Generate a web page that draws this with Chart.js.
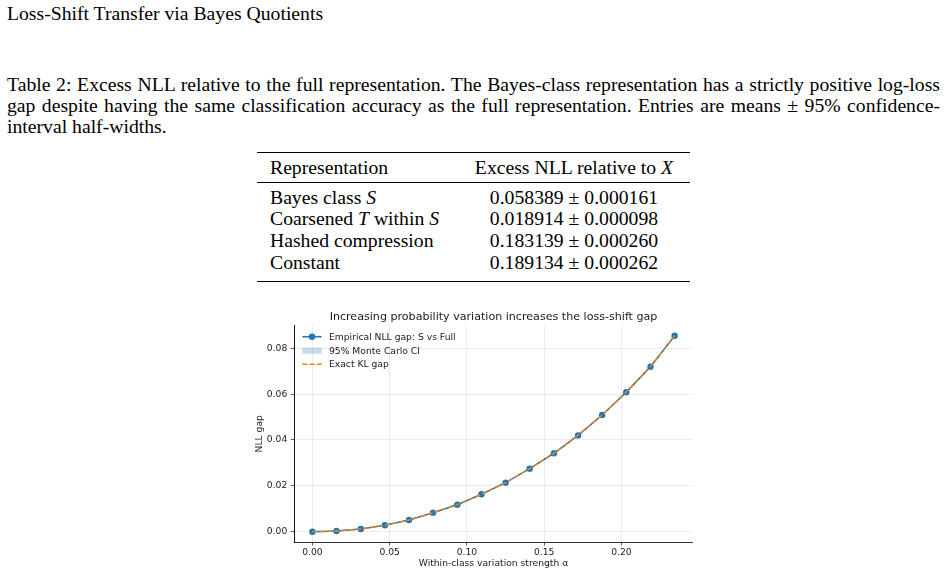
<!DOCTYPE html>
<html>
<head>
<meta charset="utf-8">
<script src="https://cdn.jsdelivr.net/npm/chart.js@4.4.1/dist/chart.umd.min.js"></script>
<style>
  html, body { margin: 0; padding: 0; background: #fff; }
  body { width: 948px; height: 576px; position: relative; overflow: hidden;
         font-family: "Liberation Serif", "Times New Roman", serif; color: #000; }
  .t { position: absolute; font-size: 19.7px; line-height: 20px; white-space: nowrap; }
  .just { white-space: normal; text-align: justify; text-align-last: justify; width: 933px; }
  .rule { position: absolute; left: 257px; width: 433px; background: #000; }
  .c2 { left: 459px; width: 230px; text-align: center; }
  i { font-style: italic; }
  #wrap { position: absolute; left: 250px; top: 300px; width: 450px; height: 276px; }
</style>
</head>
<body>
<script>
// ---- chart data ----
const alpha   = [0, 0.0156, 0.0313, 0.0469, 0.0625, 0.0781, 0.0938, 0.1094, 0.125, 0.1406, 0.1563, 0.1719, 0.1875, 0.2031, 0.2188, 0.2344];
const nllGap  = [0.0000, 0.0003, 0.0012, 0.0028, 0.0051, 0.0083, 0.0118, 0.0163, 0.0214, 0.0275, 0.0342, 0.0420, 0.0509, 0.0608, 0.0720, 0.0855];
const ciLower = [-0.0001, 0.0002, 0.0011, 0.0026, 0.0049, 0.0081, 0.0116, 0.0161, 0.0212, 0.0273, 0.0340, 0.0418, 0.0507, 0.0605, 0.0717, 0.0852];
const ciUpper = [0.0001, 0.0004, 0.0013, 0.0030, 0.0053, 0.0085, 0.0120, 0.0165, 0.0216, 0.0277, 0.0344, 0.0422, 0.0511, 0.0611, 0.0723, 0.0858];
const klGap   = [0.0000, 0.0003, 0.0012, 0.0028, 0.0051, 0.0083, 0.0118, 0.0162, 0.0214, 0.0275, 0.0342, 0.0421, 0.0509, 0.0609, 0.0721, 0.0855];
const xTicks  = [0, 0.05, 0.10, 0.15, 0.20];
const yTicks  = [0, 0.02, 0.04, 0.06, 0.08];
const seriesLabels = ["Empirical NLL gap: S vs Full", "95% Monte Carlo CI", "Exact KL gap"];
const chartTitle = "Increasing probability variation increases the loss-shift gap";
const xLabel = "Within-class variation strength \u03b1";
const yLabel = "NLL gap";

// ---- table data ----
const tableHeader = ["Representation", "Excess NLL relative to <i>X</i>"];
const tableRows = ["Bayes class <i>S</i>", "Coarsened <i>T</i> within <i>S</i>", "Hashed compression", "Constant"];
const tableMeans = ["0.058389", "0.018914", "0.183139", "0.189134"];
const tableHalfWidths = ["0.000161", "0.000098", "0.000260", "0.000262"];
</script>

<div class="t" style="left:7px; top:3.4px;">Loss-Shift Transfer via Bayes Quotients</div>

<div class="t just" style="left:7px; top:74px;">Table 2: Excess NLL relative to the full representation. The Bayes-class representation has a strictly positive log-loss</div>
<div class="t just" style="left:7px; top:94.8px;">gap despite having the same classification accuracy as the full representation. Entries are means &#177; 95% confidence-</div>
<div class="t" style="left:7px; top:115.6px;">interval half-widths.</div>

<div class="rule" style="top:151.6px; height:1.4px;"></div>
<div class="rule" style="top:182.3px; height:0.8px;"></div>
<div class="rule" style="top:281px; height:1.4px;"></div>
<div id="table"></div>

<div id="wrap"><canvas id="c" width="450" height="276"></canvas></div>

<script>
// build table text
(function(){
  const host = document.getElementById('table');
  const base = 16.65;
  function add(html, left, baseline, cls){
    const d = document.createElement('div');
    d.className = 't' + (cls ? ' ' + cls : '');
    if (left !== null) d.style.left = left + 'px';
    d.style.top = (baseline - base) + 'px';
    d.innerHTML = html;
    host.appendChild(d);
  }
  add(tableHeader[0], 270, 173.3);
  add(tableHeader[1], null, 173.3, 'c2');
  const baselines = [203.3, 224.9, 246.5, 268.3];
  tableRows.forEach((r, i) => {
    add(r, 270, baselines[i]);
    add(tableMeans[i] + ' &#177; ' + tableHalfWidths[i], null, baselines[i], 'c2');
  });
})();

const BLUE = '#1f77b4', ORANGE = '#ff7f0e', BAND = 'rgba(31,119,180,0.25)';
const TXT = '#1a1a1a';
const sansFont = "'DejaVu Sans', sans-serif";

const pts = arr => alpha.map((a, i) => ({x: a, y: arr[i]}));

const overlay = {
  id: 'overlay',
  afterDraw(chart) {
    const ctx = chart.ctx, ca = chart.chartArea;
    ctx.save();
    // title
    ctx.fillStyle = TXT;
    ctx.font = "11.1px " + sansFont;
    ctx.textAlign = 'center';
    ctx.textBaseline = 'alphabetic';
    ctx.fillText(chartTitle, (ca.left + ca.right) / 2, 19.8);
    // legend
    const x0 = 52.3, x1 = 71.7, tx = 79;
    const rows = [36.7, 50.7, 64.3];
    ctx.font = "9.2px " + sansFont;
    ctx.textAlign = 'left';
    ctx.textBaseline = 'middle';
    // row 1
    ctx.strokeStyle = BLUE; ctx.lineWidth = 1.6; ctx.setLineDash([]);
    ctx.beginPath(); ctx.moveTo(x0, rows[0]); ctx.lineTo(x1, rows[0]); ctx.stroke();
    ctx.fillStyle = BLUE;
    ctx.beginPath(); ctx.arc((x0 + x1) / 2, rows[0], 3.2, 0, Math.PI * 2); ctx.fill();
    // row 2
    ctx.fillStyle = BAND;
    ctx.fillRect(x0, rows[1] - 3.2, x1 - x0, 6.4);
    // row 3
    ctx.strokeStyle = ORANGE; ctx.lineWidth = 1.4; ctx.setLineDash([5.1, 2.2]);
    ctx.beginPath(); ctx.moveTo(x0, rows[2]); ctx.lineTo(x1, rows[2]); ctx.stroke();
    ctx.setLineDash([]);
    ctx.fillStyle = TXT;
    seriesLabels.forEach((t, i) => ctx.fillText(t, tx, rows[i] + 0.5));
    ctx.restore();
  }
};

const tickFont = {family: sansFont, size: 9.2};

new Chart(document.getElementById('c'), {
  type: 'line',
  data: {
    datasets: [
      {label: seriesLabels[2], data: pts(klGap), borderColor: ORANGE, borderWidth: 1.4,
       borderDash: [5.1, 2.2], pointRadius: 0, fill: false, order: 0, tension: 0},
      {label: seriesLabels[0], data: pts(nllGap), borderColor: BLUE, backgroundColor: BLUE,
       borderWidth: 1.6, pointRadius: 3.2, pointBorderWidth: 0, pointBackgroundColor: BLUE,
       fill: false, order: 1, tension: 0},
      {label: seriesLabels[1], data: pts(ciUpper), borderWidth: 0, pointRadius: 0,
       backgroundColor: BAND, fill: '+1', order: 2},
      {label: seriesLabels[1] + ' (lower)', data: pts(ciLower), borderWidth: 0, pointRadius: 0,
       backgroundColor: BAND, fill: false, order: 3}
    ]
  },
  options: {
    responsive: false,
    animation: false,
    devicePixelRatio: 1,
    layout: {padding: {top: 25.6, right: 7.3, left: 0, bottom: 0}},
    plugins: {legend: {display: false}, title: {display: false}, tooltip: {enabled: false}},
    scales: {
      x: {
        type: 'linear', min: -0.01172, max: 0.24609,
        afterBuildTicks: s => { s.ticks = xTicks.map(v => ({value: v})); },
        afterFit: s => { s.height = 34; },
        ticks: {callback: v => Number(v).toFixed(2), font: tickFont, color: TXT, padding: 2,
                maxRotation: 0, autoSkip: false},
        grid: {color: 'rgba(0,0,0,0.09)', lineWidth: 0.8, tickLength: 3.5, tickColor: '#333', tickWidth: 0.8},
        border: {display: true, color: '#333', width: 1},
        title: {display: true, text: xLabel, font: tickFont, color: TXT, padding: {top: 0, bottom: 7.2}}
      },
      y: {
        type: 'linear', min: -0.0045, max: 0.0899,
        afterBuildTicks: s => { s.ticks = yTicks.map(v => ({value: v})); },
        afterFit: s => { s.width = 44.3; },
        ticks: {callback: v => Number(v).toFixed(2), font: tickFont, color: TXT, padding: 3.5, autoSkip: false},
        grid: {color: 'rgba(0,0,0,0.09)', lineWidth: 0.8, tickLength: 3.5, tickColor: '#333', tickWidth: 0.8},
        border: {display: true, color: '#111', width: 1},
        title: {display: true, text: yLabel, font: tickFont, color: TXT, padding: {top: 4.5, bottom: 0}}
      }
    }
  },
  plugins: [overlay]
});
</script>
</body>
</html>
